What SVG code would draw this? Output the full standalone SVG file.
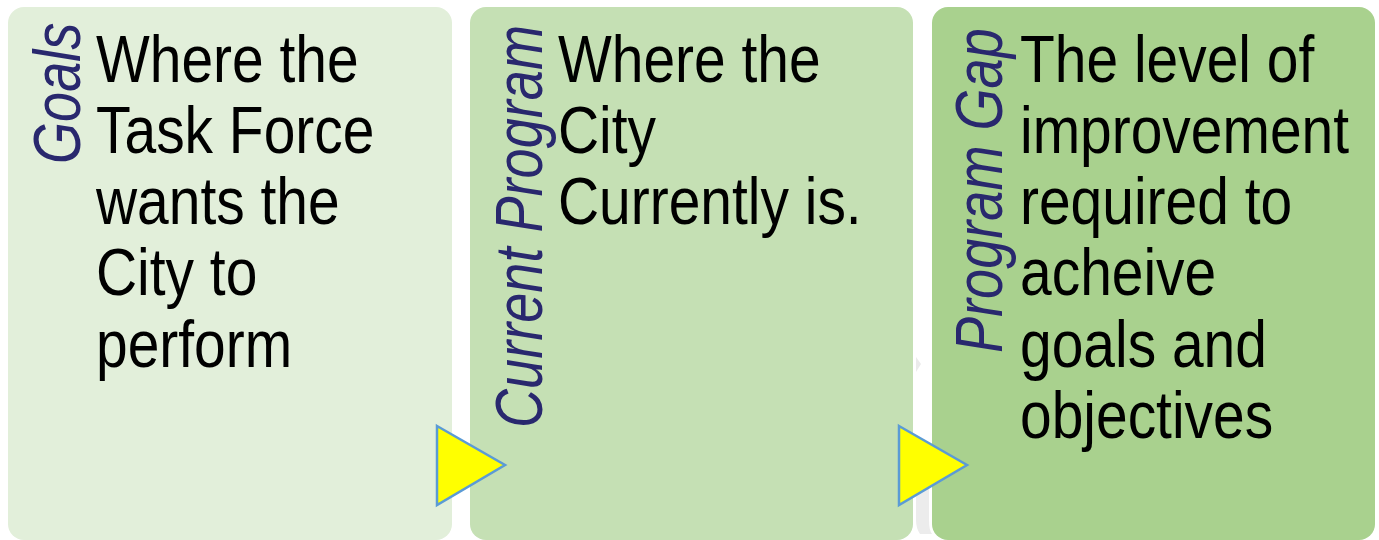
<svg xmlns="http://www.w3.org/2000/svg" width="1379" height="540" viewBox="0 0 1379 540">
<style>
.box{stroke:none}
.main{font-family:"Liberation Sans",Arial,sans-serif;font-size:67px;fill:#000}
.lab{font-family:"Liberation Sans",Arial,sans-serif;font-size:66px;font-style:italic;fill:#29286e}
.arr{fill:#ffff00;stroke:#5b9bd5;stroke-width:2.5;stroke-linejoin:miter}
</style>
<rect width="1379" height="540" fill="#ffffff"/>
<polygon points="916,357 921,364 916,372" fill="#ebebeb"/>
<path d="M916,490 L929,482 L929,520 Q929,530 932,534 L920,534 Q916,528 916,520 Z" fill="#ececec"/>
<g id="node-goals">
<rect class="box" x="8" y="7" width="444" height="533" rx="16" fill="#e2efda"/>
<g transform="translate(80,164) rotate(-90) scale(0.82,1)"><text class="lab" x="0" y="0">Goals</text></g>
<g class="main" transform="translate(96,0) scale(0.85,1)">
<text x="0" y="82">Where the</text>
<text x="0" y="153">Task Force</text>
<text x="0" y="224">wants the</text>
<text x="0" y="295">City to</text>
<text x="0" y="367">perform</text>
</g>
</g>
<g id="node-current">
<rect class="box" x="470" y="7" width="443" height="533" rx="16" fill="#c5e0b4"/>
<g transform="translate(542,428) rotate(-90) scale(0.82,1)"><text class="lab" x="0" y="0">Current Program</text></g>
<g class="main" transform="translate(558,0) scale(0.85,1)">
<text x="0" y="82">Where the</text>
<text x="0" y="153">City</text>
<text x="0" y="224">Currently is.</text>
</g>
</g>
<g id="node-gap">
<rect class="box" x="932" y="7" width="443" height="533" rx="16" fill="#a9d18e"/>
<g transform="translate(1002,353) rotate(-90) scale(0.82,1)"><text class="lab" x="0" y="0">Program Gap</text></g>
<g class="main" transform="translate(1020,0) scale(0.85,1)">
<text x="0" y="82">The level of</text>
<text x="0" y="153">improvement</text>
<text x="0" y="224">required to</text>
<text x="0" y="295">acheive</text>
<text x="0" y="367">goals and</text>
<text x="0" y="438">objectives</text>
</g>
</g>
<g id="connectors">
<polygon class="arr" points="437,426 505,465 437,505"/>
<polygon class="arr" points="899,426 967,465 899,505"/>
</g>
</svg>
